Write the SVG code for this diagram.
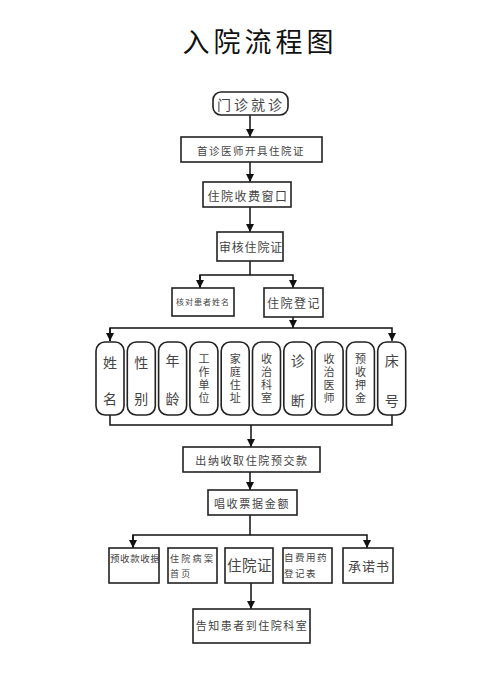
<svg xmlns="http://www.w3.org/2000/svg" width="500" height="673" viewBox="0 0 500 673">
<style>
text{font-family:"Noto Sans CJK SC","Noto Sans",sans-serif;fill:#444;text-anchor:middle;dominant-baseline:central}
.box{fill:#fff;stroke:#222;stroke-width:1.6}
.ln{fill:none;stroke:#111;stroke-width:1.5}
.title{fill:#111;font-size:27px;letter-spacing:4px;dominant-baseline:auto}
.v2{font-size:14px}
.v4{font-size:11px;writing-mode:vertical-rl;letter-spacing:2px}
.l{text-anchor:start}
</style>
<defs>
<marker id="ah" viewBox="0 0 10 10" refX="10" refY="5" markerWidth="8" markerHeight="8" markerUnits="userSpaceOnUse" orient="auto">
<path d="M0,0 L10,5 L0,10 Z" fill="#111"/>
</marker>
</defs>
<rect width="500" height="673" fill="#fff"/>
<text class="title" x="260" y="52">入院流程图</text>

<g id="connectors">
<path class="ln" d="M250,114 V137" marker-end="url(#ah)"/>
<path class="ln" d="M250,162 V182" marker-end="url(#ah)"/>
<path class="ln" d="M250,207 V232" marker-end="url(#ah)"/>
<path class="ln" d="M250,261 V275"/>
<path class="ln" d="M200,288 V275 H293 V288" marker-end="url(#ah)"/>
<path class="ln" d="M200,275 V288" marker-end="url(#ah)"/>
<path class="ln" d="M293,317 V328" marker-end="url(#ah)"/>
<path class="ln" d="M110,341 V328 H392 V341" marker-end="url(#ah)"/>
<path class="ln" d="M110,328 V341" marker-end="url(#ah)"/>
<path class="ln" d="M110,415 V425 H392 V415"/>
<path class="ln" d="M251,425 V447" marker-end="url(#ah)"/>
<path class="ln" d="M250,472 V490" marker-end="url(#ah)"/>
<path class="ln" d="M250,515 V535"/>
<path class="ln" d="M133,548 V535 H367 V548" marker-end="url(#ah)"/>
<path class="ln" d="M133,535 V548" marker-end="url(#ah)"/>
<path class="ln" d="M251,583 V609" marker-end="url(#ah)"/>
</g>

<g id="n1"><rect class="box" x="213" y="92" width="75" height="23" rx="8"/><text x="251" y="103.5" style="font-size:14px;letter-spacing:3px">门诊就诊</text></g>
<g id="n2"><rect class="box" x="181" y="137" width="141" height="25"/><text x="251" y="150" style="font-size:10.5px;letter-spacing:1.5px">首诊医师开具住院证</text></g>
<g id="n3"><rect class="box" x="203" y="182" width="88" height="25"/><text x="248" y="195" style="font-size:12px;letter-spacing:1.5px">住院收费窗口</text></g>
<g id="n4"><rect class="box" x="217" y="232" width="66" height="29"/><text x="251" y="246.5" style="font-size:12px;letter-spacing:0.8px">审核住院证</text></g>
<g id="n5"><rect class="box" x="172" y="288" width="62" height="28"/><text x="203" y="301" style="font-size:8px;letter-spacing:1px">核对患者姓名</text></g>
<g id="n6"><rect class="box" x="264" y="288" width="59" height="29"/><text x="294" y="302.5" style="font-size:12px;letter-spacing:1.5px">住院登记</text></g>

<g id="v1"><rect class="box" x="96" y="342" width="28" height="73" rx="9"/><text class="v2" x="110" y="362">姓</text><text class="v2" x="110" y="398">名</text></g>
<g id="v2"><rect class="box" x="127.3" y="342" width="28" height="73" rx="9"/><text class="v2" x="141.3" y="362">性</text><text class="v2" x="141.3" y="398">别</text></g>
<g id="v3"><rect class="box" x="158.6" y="342" width="28" height="73" rx="9"/><text class="v2" x="172.6" y="360">年</text><text class="v2" x="172.6" y="398">龄</text></g>
<g id="v4"><rect class="box" x="189.9" y="342" width="28" height="73" rx="9"/><text class="v4" x="203.9" y="379.5">工作单位</text></g>
<g id="v5"><rect class="box" x="221.2" y="342" width="28" height="73" rx="9"/><text class="v4" x="235.2" y="379.5">家庭住址</text></g>
<g id="v6"><rect class="box" x="252.5" y="342" width="28" height="73" rx="9"/><text class="v4" x="266.5" y="379.5">收治科室</text></g>
<g id="v7"><rect class="box" x="283.8" y="342" width="28" height="73" rx="9"/><text class="v2" x="297.8" y="360">诊</text><text class="v2" x="297.8" y="400">断</text></g>
<g id="v8"><rect class="box" x="315.1" y="342" width="28" height="73" rx="9"/><text class="v4" x="329.1" y="379.5">收治医师</text></g>
<g id="v9"><rect class="box" x="346.4" y="342" width="28" height="73" rx="9"/><text class="v4" x="360.4" y="379.5">预收押金</text></g>
<g id="v10"><rect class="box" x="377.7" y="342" width="28" height="73" rx="9"/><text class="v2" x="391.7" y="360">床</text><text class="v2" x="391.7" y="400">号</text></g>

<g id="n7"><rect class="box" x="183" y="447" width="137" height="25"/><text x="252" y="460" style="font-size:11px;letter-spacing:1.6px">出纳收取住院预交款</text></g>
<g id="n8"><rect class="box" x="208" y="490" width="89" height="25"/><text x="252" y="503" style="font-size:11px;letter-spacing:1.7px">唱收票据金额</text></g>

<g id="b1"><rect class="box" x="109" y="548" width="50" height="35"/><text class="l" x="110" y="558" style="font-size:9.5px;letter-spacing:0.6px">预收款收据</text></g>
<g id="b2"><rect class="box" x="168" y="548" width="49" height="35"/><text class="l" x="170" y="558" style="font-size:9px;letter-spacing:2.3px">住院病案</text><text class="l" x="170" y="573" style="font-size:9px;letter-spacing:2.3px">首页</text></g>
<g id="b3"><rect class="box" x="225" y="548" width="48" height="35"/><text x="249.5" y="564" style="font-size:14.5px;letter-spacing:0.5px">住院证</text></g>
<g id="b4"><rect class="box" x="283" y="548" width="49" height="35"/><text class="l" x="284" y="557" style="font-size:9.5px;letter-spacing:1.5px">自费用药</text><text class="l" x="284" y="573" style="font-size:9.5px;letter-spacing:1.5px">登记表</text></g>
<g id="b5"><rect class="box" x="343" y="548" width="50" height="35"/><text x="369" y="565" style="font-size:13px;letter-spacing:1px">承诺书</text></g>
<g id="n9"><rect class="box" x="193" y="609" width="117" height="34"/><text x="252" y="625" style="font-size:11px;letter-spacing:1.5px">告知患者到住院科室</text></g>
</svg>
